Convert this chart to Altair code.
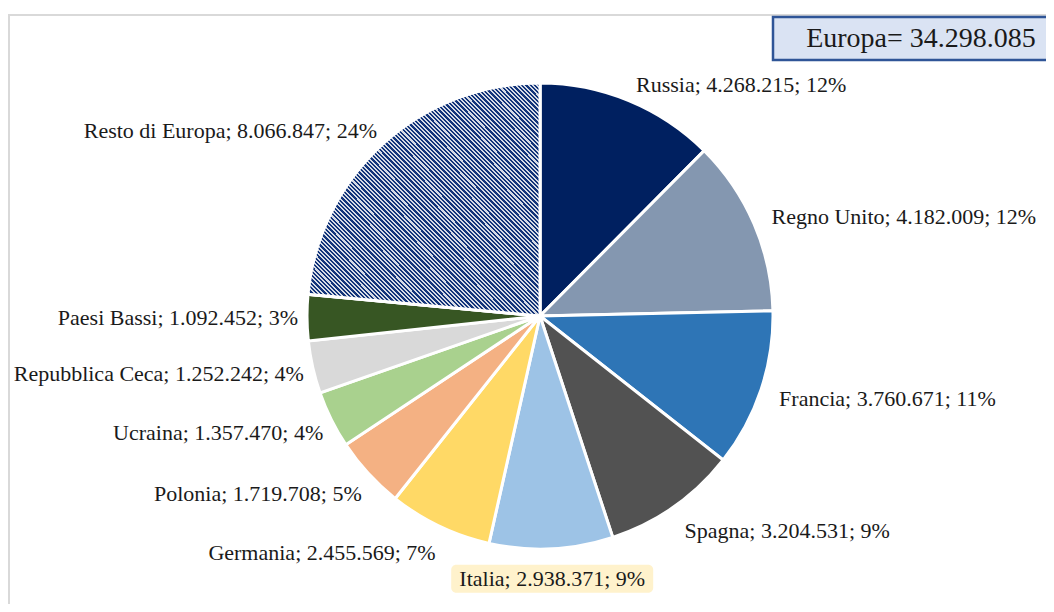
import altair as alt
import pandas as pd

# ---- data ----
paesi = ["Russia", "Regno Unito", "Francia", "Spagna", "Italia", "Germania",
         "Polonia", "Ucraina", "Repubblica Ceca", "Paesi Bassi", "Resto di Europa"]
valori = [4268215, 4182009, 3760671, 3204531, 2938371, 2455569,
          1719708, 1357470, 1252242, 1092452, 8066847]
colori = ["#002060", "#8497b0", "#2e75b6", "#525252", "#9dc3e6", "#ffd966",
          "#f4b183", "#a9d18e", "#d9d9d9", "#375623", "#14306e"]

totale = sum(valori)


def fmt(v):
    return f"{v:,}".replace(",", ".")


etichette = [f"{p}; {fmt(v)}; {round(v / totale * 100)}%" for p, v in zip(paesi, valori)]

df = pd.DataFrame({"paese": paesi, "valore": valori, "ord": list(range(len(paesi))),
                   "etichetta": etichette})

W, H = 1038, 596
CX, CY, R = 532, 308, 233
FONT = "Liberation Serif"

# hatched fill for "Resto di Europa" built as a hard-stop linear gradient
N = 108
stops = []
for k in range(N):
    a, b, c = k / N, (k + 0.52) / N, (k + 1) / N
    stops += [{"offset": a, "color": "#12347a"}, {"offset": b, "color": "#12347a"},
              {"offset": b, "color": "#d6dbe5"}, {"offset": c, "color": "#d6dbe5"}]
hatch = alt.LinearGradient(gradient="linear", stops=stops, x1=0, y1=1, x2=1, y2=0)

arcs = alt.Chart(df).mark_arc(radius=R, stroke="white", strokeWidth=3).encode(
    theta=alt.Theta("valore:Q", stack=True),
    order=alt.Order("ord:Q"),
    fill=alt.Fill("paese:N", scale=alt.Scale(domain=paesi, range=colori), legend=None),
    x=alt.value(CX), y=alt.value(CY),
)

hatch_arc = alt.Chart(df).mark_arc(radius=R, stroke="white", strokeWidth=3, fill=hatch).encode(
    theta=alt.Theta("valore:Q", stack=True),
    order=alt.Order("ord:Q"),
    opacity=alt.condition("datum.paese == 'Resto di Europa'", alt.value(1), alt.value(0)),
    x=alt.value(CX), y=alt.value(CY),
)

pos = alt.Chart(df).transform_joinaggregate(tot="sum(valore)").transform_window(
    cum="sum(valore)", sort=[alt.SortField("ord")], frame=[None, 0]
).transform_calculate(
    mid="(datum.cum - datum.valore / 2) / datum.tot",
    ang="2 * PI * datum.mid",
    lx=f"{CX} + (sin(datum.ang) > 0 ? 252 : 242) * sin(datum.ang)",
    ly=f"{CY} - 250 * cos(datum.ang) + (cos(datum.ang) < 0 ? -13 * cos(datum.ang) : 0)",
)

enc = dict(x=alt.X("lx:Q", scale=None, axis=None), y=alt.Y("ly:Q", scale=None, axis=None),
           text="etichetta:N")
tstyle = dict(baseline="middle", font=FONT, fontSize=22, color="#1a1a1a")

lab_r = pos.transform_filter("datum.mid < 0.47").mark_text(align="left", **tstyle).encode(**enc)
lab_l = pos.transform_filter("datum.mid > 0.52").mark_text(align="right", **tstyle).encode(**enc)
centro = "datum.mid >= 0.47 && datum.mid <= 0.52"
lab_c_box = pos.transform_filter(centro).transform_calculate(
    bx1="datum.lx - 101", bx2="datum.lx + 101", by1="datum.ly - 14", by2="datum.ly + 14"
).mark_rect(fill="#fff2cc", cornerRadius=5).encode(
    x=alt.X("bx1:Q", scale=None, axis=None), x2="bx2:Q",
    y=alt.Y("by1:Q", scale=None, axis=None), y2="by2:Q")
lab_c = pos.transform_filter(centro).mark_text(align="center", **tstyle).encode(**enc)

one = pd.DataFrame({"t": [f"Europa= {fmt(totale)}"]})
frame_top = alt.Chart(one).mark_rule(color="#d9d9d9", strokeWidth=2).encode(
    x=alt.value(0), x2=alt.value(W), y=alt.value(7))
frame_left = alt.Chart(one).mark_rule(color="#d9d9d9", strokeWidth=2).encode(
    x=alt.value(1), y=alt.value(7), y2=alt.value(H))
box = alt.Chart(one).mark_rect(fill="#dae3f3", stroke="#2f5597", strokeWidth=2.5).encode(
    x=alt.value(765), x2=alt.value(W + 10), y=alt.value(9), y2=alt.value(52))
box_text = alt.Chart(one).mark_text(font=FONT, fontSize=28, color="#1a1a1a",
                                    align="center", baseline="middle").encode(
    x=alt.value(913), y=alt.value(31), text="t:N")

chart = alt.layer(frame_top, frame_left, arcs, hatch_arc, lab_c_box, lab_r, lab_l, lab_c,
                  box, box_text).properties(
    width=W, height=H, padding=0,
    autosize=alt.AutoSizeParams(type="none"),
).configure_view(stroke=None)

chart.save("out.html", embed_options={"renderer": "svg", "actions": False})
